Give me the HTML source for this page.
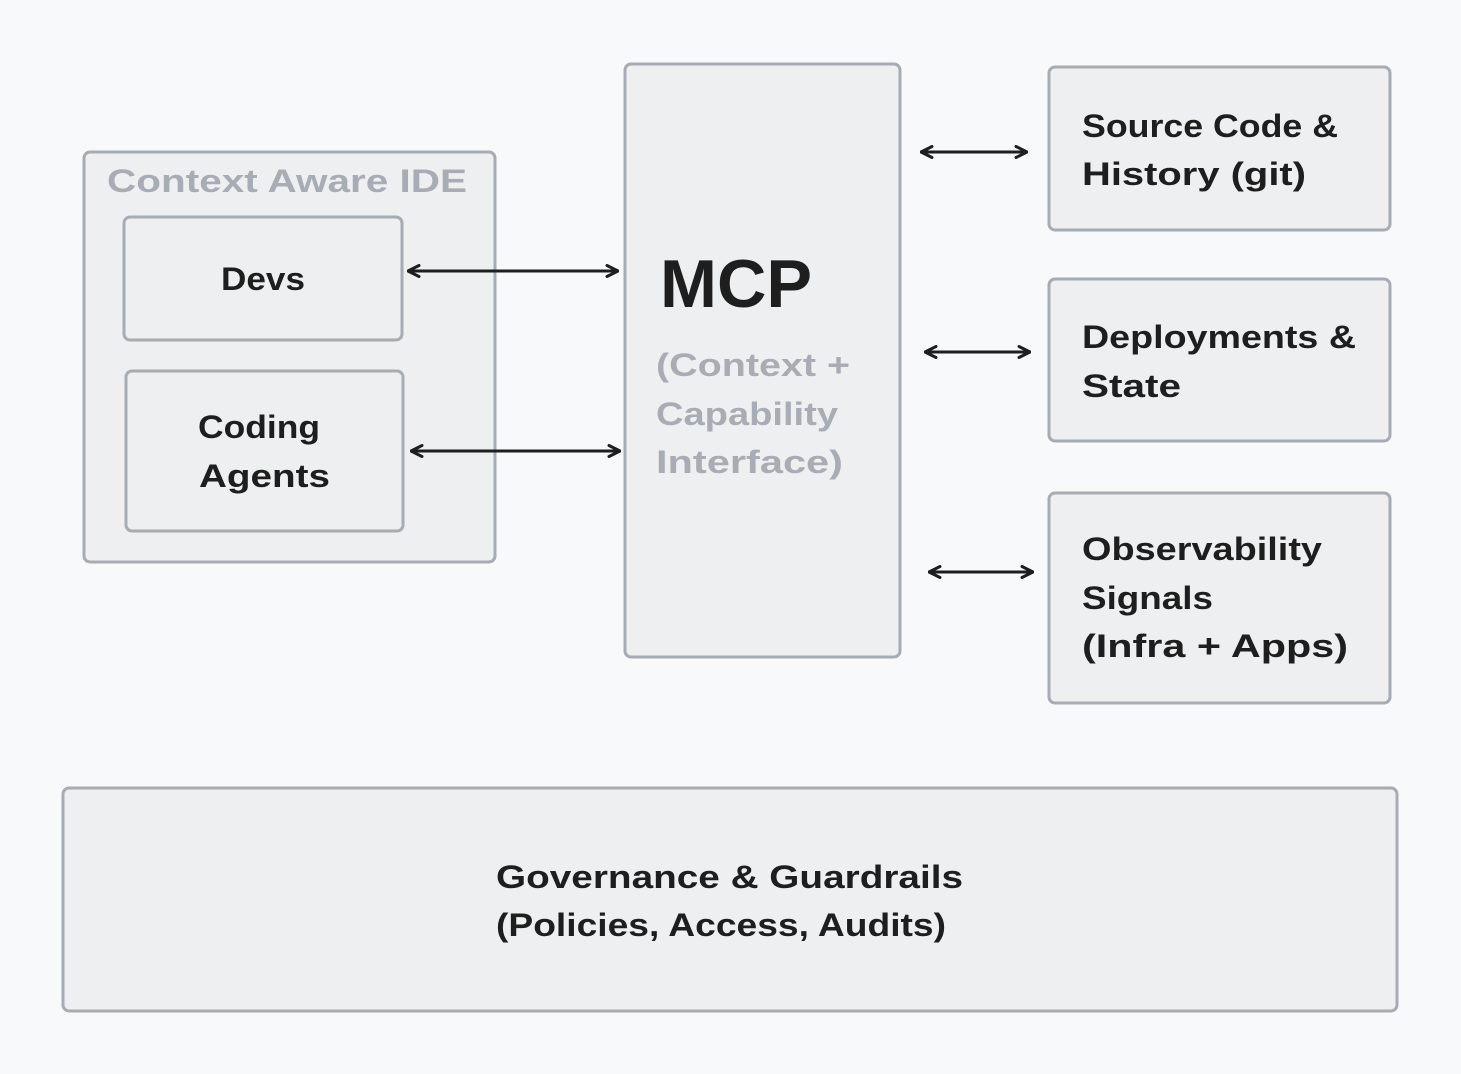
<!DOCTYPE html>
<html><head><meta charset="utf-8"><style>
html,body{margin:0;padding:0;background:#f8f9fa;}
svg{display:block;}
text{font-family:"Liberation Sans",sans-serif;font-weight:bold;font-size:32px;fill:#1e1e1e;}
.g{fill:#a8adb5;}
</style></head><body>
<svg width="1461" height="1074" viewBox="0 0 1461 1074">
<defs>
<marker id="a" viewBox="0 0 14 14" refX="13" refY="7" markerWidth="14" markerHeight="14" markerUnits="userSpaceOnUse" orient="auto-start-reverse">
<path d="M2 1.5 L13 7 L2 12.5" fill="none" stroke="#1e1e1e" stroke-width="3" stroke-linecap="round" stroke-linejoin="round"/>
</marker>
</defs>
<rect width="1461" height="1074" fill="#f8f9fa"/>
<g fill="#eeeff0" stroke="#a6acb4" stroke-width="3">
<rect x="84" y="152" width="411" height="410" rx="6"/>
<rect x="124" y="217" width="278" height="123" rx="6"/>
<rect x="126" y="371" width="277" height="160" rx="6"/>
<rect x="625" y="64" width="275" height="593" rx="6"/>
<rect x="1049" y="67" width="341" height="163" rx="6"/>
<rect x="1049" y="279" width="341" height="162" rx="6"/>
<rect x="1049" y="493" width="341" height="210" rx="6"/>
<rect x="63" y="788" width="1334" height="223" rx="6"/>
</g>
<g stroke="#1e1e1e" stroke-width="3" marker-start="url(#a)" marker-end="url(#a)">
<line x1="408" y1="271" x2="618" y2="271"/>
<line x1="411" y1="451" x2="620" y2="451"/>
<line x1="921" y1="152" x2="1027" y2="152"/>
<line x1="925" y1="352" x2="1030" y2="352"/>
<line x1="929" y1="572" x2="1033" y2="572"/>
</g>
<text class="g" x="107" y="192" textLength="360" lengthAdjust="spacingAndGlyphs">Context Aware IDE</text>
<text x="221" y="290" textLength="84" lengthAdjust="spacingAndGlyphs">Devs</text>
<text x="198" y="438" textLength="122" lengthAdjust="spacingAndGlyphs">Coding</text>
<text x="199" y="487" textLength="131" lengthAdjust="spacingAndGlyphs">Agents</text>
<text x="660" y="307" style="font-size:68px" textLength="152" lengthAdjust="spacingAndGlyphs">MCP</text>
<text class="g" x="656" y="376" textLength="194" lengthAdjust="spacingAndGlyphs">(Context +</text>
<text class="g" x="656" y="425" textLength="182" lengthAdjust="spacingAndGlyphs">Capability</text>
<text class="g" x="656" y="473" textLength="187" lengthAdjust="spacingAndGlyphs">Interface)</text>
<text x="1082" y="137" textLength="256" lengthAdjust="spacingAndGlyphs">Source Code &amp;</text>
<text x="1082" y="185" textLength="224" lengthAdjust="spacingAndGlyphs">History (git)</text>
<text x="1082" y="348" textLength="274" lengthAdjust="spacingAndGlyphs">Deployments &amp;</text>
<text x="1082" y="397" textLength="99" lengthAdjust="spacingAndGlyphs">State</text>
<text x="1082" y="560" textLength="240" lengthAdjust="spacingAndGlyphs">Observability</text>
<text x="1082" y="609" textLength="131" lengthAdjust="spacingAndGlyphs">Signals</text>
<text x="1082" y="657" textLength="266" lengthAdjust="spacingAndGlyphs">(Infra + Apps)</text>
<text x="496" y="888" textLength="467" lengthAdjust="spacingAndGlyphs">Governance &amp; Guardrails</text>
<text x="496" y="936" textLength="450" lengthAdjust="spacingAndGlyphs">(Policies, Access, Audits)</text>
</svg>
</body></html>
